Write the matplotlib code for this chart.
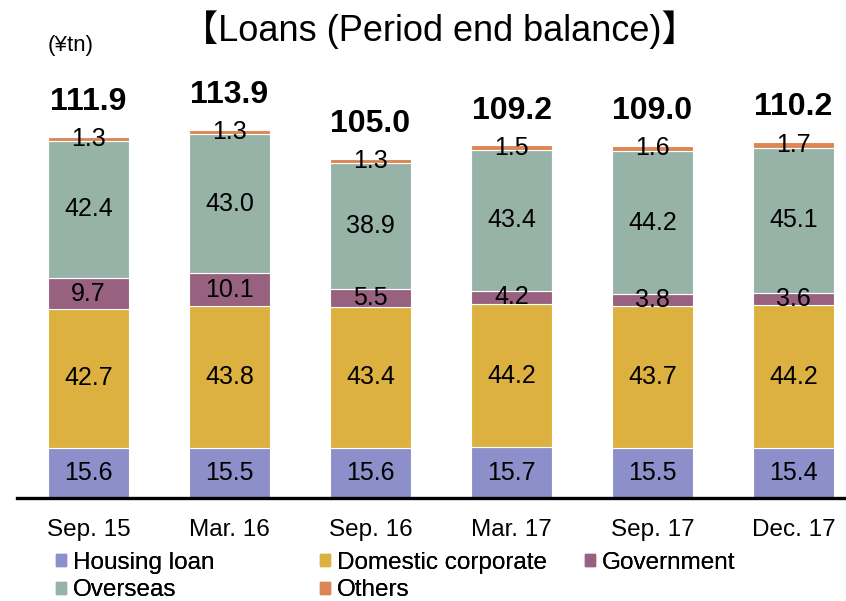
import matplotlib

matplotlib.use("Agg")
import matplotlib.pyplot as plt
from matplotlib.patches import Patch

periods = ["Sep. 15", "Mar. 16", "Sep. 16", "Mar. 17", "Sep. 17", "Dec. 17"]
housing = [15.6, 15.5, 15.6, 15.7, 15.5, 15.4]
domestic = [42.7, 43.8, 43.4, 44.2, 43.7, 44.2]
government = [9.7, 10.1, 5.5, 4.2, 3.8, 3.6]
overseas = [42.4, 43.0, 38.9, 43.4, 44.2, 45.1]
others = [1.3, 1.3, 1.3, 1.5, 1.6, 1.7]
totals = [111.9, 113.9, 105.0, 109.2, 109.0, 110.2]

series = [
    ("Housing loan", housing, "#8c8fca"),
    ("Domestic corporate", domestic, "#ddb13f"),
    ("Government", government, "#98617f"),
    ("Overseas", overseas, "#97b3a7"),
    ("Others", others, "#dc8655"),
]

plt.rcParams["font.family"] = ["Liberation Sans", "Noto Sans CJK JP", "DejaVu Sans"]

fig = plt.figure(figsize=(8.46, 6.01), dpi=100)
ax = fig.add_axes([17 / 846, 103 / 601, 829 / 846, 422 / 601])

xs = list(range(len(periods)))
bottom = [0.0] * len(periods)
for name, vals, color in series:
    ax.bar(xs, vals, width=0.574, bottom=bottom, color=color,
           edgecolor="white", linewidth=0.8, label=name)
    for x, b, v in zip(xs, bottom, vals):
        ax.text(x, b + v / 2, f"{v:.1f}", ha="center", va="center", fontsize=18)
    bottom = [b + v for b, v in zip(bottom, vals)]

for x, top, t in zip(xs, bottom, totals):
    ax.annotate(f"{t:.1f}", (x, top), xytext=(0, 25), textcoords="offset points",
                ha="center", va="center", fontsize=23, fontweight="bold")

ax.set_xlim(-0.507, 5.372)
ax.set_ylim(0, 130.4)
ax.set_xticks(xs)
ax.set_xticklabels(periods, fontsize=17.5)
ax.tick_params(axis="x", length=0, pad=15)
ax.set_yticks([])
for side in ("left", "right", "top"):
    ax.spines[side].set_visible(False)
ax.spines["bottom"].set_linewidth(2.4)

fig.text(440 / 846, 1 - 30 / 601, "【Loans (Period end balance)】",
         ha="center", va="center", fontsize=26)
fig.text(48 / 846, 1 - 45 / 601, "(¥tn)", ha="left", va="center", fontsize=16)

# legend laid out in three columns like the original
handles = {name: Patch(color=color) for name, _, color in series}
columns = [
    (56, ["Housing loan", "Overseas"]),
    (320, ["Domestic corporate", "Others"]),
    (585, ["Government"]),
]
for xpix, names in columns:
    leg = fig.legend([handles[n] for n in names], names, loc="upper left",
                     bbox_to_anchor=(xpix / 846, 1 - 552 / 601), frameon=False,
                     fontsize=17.5, handlelength=0.4, handleheight=0.4,
                     handletextpad=0.3, labelspacing=0.22, borderpad=0,
                     borderaxespad=0)
    fig.add_artist(leg)

fig.savefig("out.png", dpi=100)
